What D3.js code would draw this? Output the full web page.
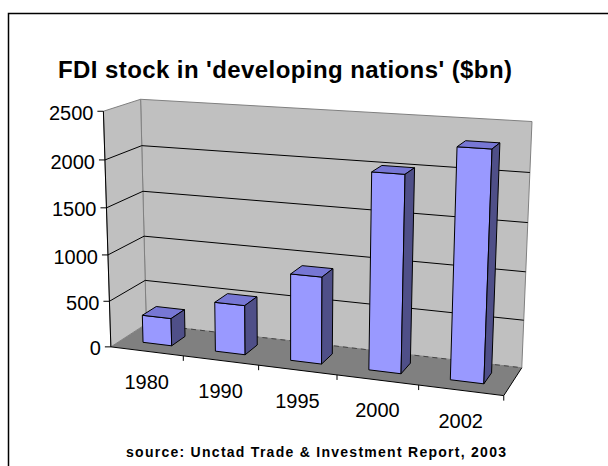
<!DOCTYPE html>
<html><head><meta charset="utf-8">
<script src="https://cdn.jsdelivr.net/npm/d3@7"></script>
<style>body{margin:0;background:#fff} svg{display:block}</style>
</head><body>
<script>
// ---- data ----
const categories = ["1980", "1990", "1995", "2000", "2002"];
const values = [300, 530, 915, 2020, 2320];
const yTicks = [0, 500, 1000, 1500, 2000, 2500];
const titleText = "FDI stock in 'developing nations' ($bn)";
const sourceText = "source: Unctad Trade & Investment Report, 2003";

const W = 608, H = 466;
const svg = d3.select("body").append("svg").attr("width", W).attr("height", H)
  .style("font-family", "'Liberation Sans', Arial, sans-serif");

// ---- world scales (3D) ----
const xS = d3.scaleBand().domain(categories).range([0, 5]).paddingInner(0.6).paddingOuter(0.3);
const yS = d3.scaleLinear().domain([0, 2500]).range([0, 5]);
const X0 = 0, X1 = 5, Z0 = 0, Z1 = 1, BZ0 = 0.3, BZ1 = 0.7;

// ---- perspective camera, calibrated on the chart frame ----
const anchors = [
  [[0,0,0],[111.7,346.7]], [[0,1,0],[110,301]], [[0,2,0],[107.7,254]],
  [[0,3,0],[106.7,207.7]], [[0,4,0],[105,159.3]], [[0,5,0],[103.3,111]],
  [[0,5,1],[140,100]], [[0,4,1],[141.7,146]], [[0,3,1],[142.7,191]],
  [[0,2,1],[144.3,235.7]], [[0,0,1],[146,325.5]],
  [[5,5,1],[532.3,122.7]], [[5,4,1],[530,173.3]], [[5,3,1],[528,221.7]],
  [[5,2,1],[526,270.7]], [[5,1,1],[524,319.3]], [[5,0,1],[521.7,366.7]],
  [[1,0,0],[183.3,355.8]], [[2,0,0],[258.3,365.4]], [[3,0,0],[336.7,375.4]],
  [[4,0,0],[418.3,385.9]], [[5,0,0],[503.3,396.7]]
];
const CU = 300, CV = 250, SC = 200;
function solveDLT(pts) {
  const rows = [], rhs = [];
  pts.forEach(([[X,Y,Z],[u,v]]) => {
    const un = (u - CU) / SC, vn = (v - CV) / SC;
    rows.push([X,Y,Z,1,0,0,0,0,-un*X,-un*Y,-un*Z]); rhs.push(un);
    rows.push([0,0,0,0,X,Y,Z,1,-vn*X,-vn*Y,-vn*Z]); rhs.push(vn);
  });
  const n = 11;
  const M = Array.from({length:n}, () => new Array(n+1).fill(0));
  rows.forEach((r, k) => {
    for (let i = 0; i < n; i++) {
      for (let j = 0; j < n; j++) M[i][j] += r[i]*r[j];
      M[i][n] += r[i]*rhs[k];
    }
  });
  for (let c = 0; c < n; c++) {
    let p = c;
    for (let r = c+1; r < n; r++) if (Math.abs(M[r][c]) > Math.abs(M[p][c])) p = r;
    [M[c], M[p]] = [M[p], M[c]];
    for (let r = 0; r < n; r++) {
      if (r === c) continue;
      const f = M[r][c] / M[c][c];
      for (let j = c; j <= n; j++) M[r][j] -= f*M[c][j];
    }
  }
  return M.map((r, i) => r[n] / r[i]);
}
const P = solveDLT(anchors);
function proj([X,Y,Z]) {
  const w = P[8]*X + P[9]*Y + P[10]*Z + 1;
  return [(P[0]*X+P[1]*Y+P[2]*Z+P[3])/w*SC + CU, (P[4]*X+P[5]*Y+P[6]*Z+P[7])/w*SC + CV];
}
const line = d3.line();
const poly = pts => line(pts.map(proj)) + "Z";
const seg = (a, b) => line([a, b].map(proj));

// ---- border ----
svg.append("rect").attr("x", 8.5).attr("y", 13.5).attr("width", 700).attr("height", 600)
  .attr("fill", "none").attr("stroke", "#000").attr("stroke-width", 1.5);

// ---- title & source ----
svg.append("text").attr("x", 285).attr("y", 78).attr("text-anchor", "middle")
  .attr("font-size", 24).attr("font-weight", "bold").attr("textLength", 454)
  .attr("lengthAdjust", "spacing").text(titleText);
svg.append("text").attr("x", 316).attr("y", 457).attr("text-anchor", "middle")
  .attr("font-size", 14).attr("font-weight", "bold").attr("textLength", 380)
  .attr("lengthAdjust", "spacing").text(sourceText);

const yTop = yS(2500);
// ---- walls & floor ----
svg.append("path").attr("d", poly([[X0,0,Z0],[X1,0,Z0],[X1,0,Z1],[X0,0,Z1]]))
  .attr("fill", "#808080").attr("stroke", "none");
svg.append("path").attr("d", poly([[X0,0,Z1],[X1,0,Z1],[X1,yTop,Z1],[X0,yTop,Z1]]))
  .attr("fill", "#c0c0c0").attr("stroke", "#808080").attr("stroke-width", 1);
svg.append("path").attr("d", poly([[X0,0,Z0],[X0,0,Z1],[X0,yTop,Z1],[X0,yTop,Z0]]))
  .attr("fill", "#c0c0c0").attr("stroke", "#808080").attr("stroke-width", 1);

// ---- gridlines ----
yTicks.filter(t => t > 0 && t < 2500).forEach(t => {
  const y = yS(t);
  svg.append("path").attr("d", seg([X0,y,Z0],[X0,y,Z1]) + seg([X0,y,Z1],[X1,y,Z1]))
    .attr("fill", "none").attr("stroke", "#000").attr("stroke-width", 1);
});
svg.append("path").attr("d", seg([X0,0,Z1],[X1,0,Z1]))
  .attr("fill", "none").attr("stroke", "#444").attr("stroke-width", 1).attr("stroke-dasharray", "5,4");

// ---- axes ----
svg.append("path").attr("d", seg([X0,0,Z0],[X0,yTop,Z0]) + seg([X0,0,Z0],[X1,0,Z0]) + seg([X1,0,Z0],[X1,0,Z1]))
  .attr("fill", "none").attr("stroke", "#000").attr("stroke-width", 1);

// y ticks & labels
yTicks.forEach(t => {
  const [u, v] = proj([X0, yS(t), Z0]);
  svg.append("line").attr("x1", u - 6).attr("x2", u).attr("y1", v).attr("y2", v)
    .attr("stroke", "#000").attr("stroke-width", 1);
  svg.append("text").attr("x", u - 10).attr("y", v + 8.6).attr("text-anchor", "end")
    .attr("font-size", 20).text(t);
});
// category ticks & labels
const step = xS.step();
categories.forEach((c, i) => {
  const xb = xS(c) - xS.paddingOuter() * step + step; // right boundary of category
  const [u, v] = proj([xb, 0, Z0]);
  svg.append("line").attr("x1", u).attr("x2", u).attr("y1", v).attr("y2", v + 5)
    .attr("stroke", "#000").attr("stroke-width", 1);
  const [lu, lv] = proj([xS(c) + xS.bandwidth() / 2, 0, Z0]);
  svg.append("text").attr("x", lu).attr("y", lv + 37.5).attr("text-anchor", "middle")
    .attr("font-size", 20).text(c);
});

// ---- bars ----
const bars = svg.append("g").attr("stroke", "#000").attr("stroke-width", 1).attr("stroke-linejoin", "round");
categories.forEach((c, i) => {
  const a = xS(c), b = a + xS.bandwidth(), h = yS(values[i]);
  bars.append("path").attr("d", poly([[a,0,BZ0],[b,0,BZ0],[b,h,BZ0],[a,h,BZ0]])).attr("fill", "#9999ff");
  bars.append("path").attr("d", poly([[a,h,BZ0],[b,h,BZ0],[b,h,BZ1],[a,h,BZ1]])).attr("fill", "#7777d4");
  bars.append("path").attr("d", poly([[b,0,BZ0],[b,0,BZ1],[b,h,BZ1],[b,h,BZ0]])).attr("fill", "#4f4f88");
});
</script>
</body></html>
